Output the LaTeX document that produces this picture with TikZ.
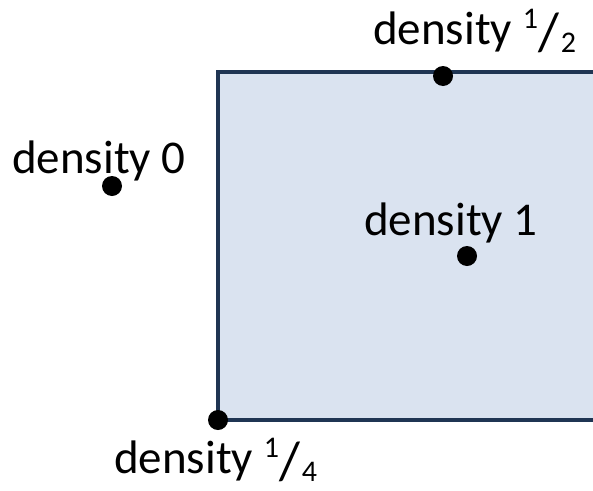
\documentclass[tikz,border=0pt]{standalone}
\usepackage{fontspec}
\setmainfont{Carlito}
\definecolor{edgecol}{HTML}{1F3553}
\definecolor{fillcol}{HTML}{DAE3F0}
\newcommand{\myfrac}[2]{\raisebox{16pt}{\fontsize{30}{30}\selectfont #1}\hspace{1pt}\raisebox{-6pt}{\fontsize{54}{54}\selectfont /}\hspace{1pt}\raisebox{-8pt}{\fontsize{30}{30}\selectfont #2}}
\begin{document}
\begin{tikzpicture}[x=1pt,y=-1pt,
  lbl/.style={anchor=base west,inner sep=0pt,font=\fontsize{47}{52}\selectfont},
  dotmark/.style={circle,fill=black,minimum size=20pt,inner sep=0pt}]
\useasboundingbox (0,0) rectangle (593,490);
\fill[fillcol] (218,72) rectangle (593,420);
\coordinate (tr) at (593,72);
\coordinate (br) at (593,420);
\coordinate (tl) at (218,72);
\coordinate (bl) at (218,420);
\draw[edgecol,line width=4pt] (tr) -- (tl) -- (bl) -- (br);
\node[dotmark] (dh) at (443,76) {};
\node[dotmark] (d0) at (112,186) {};
\node[dotmark] (d1) at (467,256) {};
\node[dotmark] (dq) at (218,420) {};
\node[lbl] (lh) at (373,44) {density \myfrac{1}{2}};
\node[lbl] (l0) at (12,173) {density 0};
\node[lbl] (l1) at (364,235) {density 1};
\node[lbl] (lq) at (114,473) {density \myfrac{1}{4}};
\end{tikzpicture}
\end{document}
